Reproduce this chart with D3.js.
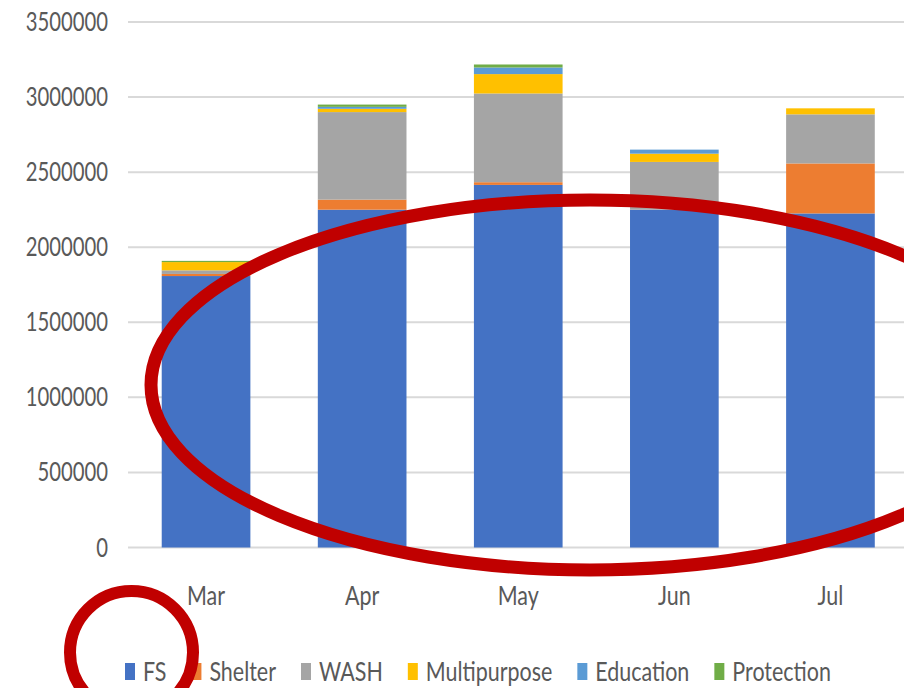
<!DOCTYPE html>
<html>
<head>
  <meta charset='utf-8'>
  <script src="https://d3js.org/d3.v7.min.js"></script>
  <style>
    body { margin: 0; background: #fff; }
    text { font-family: Lato, 'Open Sans', sans-serif; fill: #595959; }
  </style>
</head>
<body>
  <script type='text/javascript'>
    // Chart data
    var months = ['Mar', 'Apr', 'May', 'Jun', 'Jul'];
    var sectors = ['FS', 'Shelter', 'WASH', 'Multipurpose', 'Education', 'Protection'];
    var colors = ['#4472c4', '#ed7d31', '#a5a5a5', '#ffc000', '#5b9bd5', '#70ad47'];
    var fs           = [1808000, 2250000, 2415000, 2250000, 2225000];
    var shelter      = [14000, 67000, 18000, 0, 333000];
    var wash         = [24000, 583000, 591000, 318000, 327000];
    var multipurpose = [55000, 22000, 129000, 55000, 40000];
    var education    = [0, 13000, 44000, 27000, 0];
    var protection   = [8000, 15000, 20000, 0, 0];
    var yTicks = [0, 500000, 1000000, 1500000, 2000000, 2500000, 3000000, 3500000];

    var series = [fs, shelter, wash, multipurpose, education, protection];
    var rows = months.map(function(m, i) {
      var r = { month: m };
      sectors.forEach(function(s, j) { r[s] = series[j][i]; });
      return r;
    });

    var width = 904, height = 688;
    var sx = 0.78; // condensed look of the text

    var svg = d3.select('body')
      .append('svg')
      .attr('width', width)
      .attr('height', height);

    var x = d3.scaleBand()
      .domain(months)
      .range([128, 908.5])
      .paddingInner(0.432)
      .paddingOuter(0.216);

    var y = d3.scaleLinear()
      .domain([0, 3500000])
      .range([547.5, 22]);

    // gridlines
    svg.append('g')
      .selectAll('line')
      .data(yTicks)
      .enter().append('line')
      .attr('x1', 128)
      .attr('x2', width)
      .attr('y1', function(d) { return y(d); })
      .attr('y2', function(d) { return y(d); })
      .attr('stroke', '#d9d9d9')
      .attr('stroke-width', 2);

    // put condensed text at a point
    function label(g, tx, ty, str, anchor, size) {
      return g.append('g')
        .attr('transform', 'translate(' + tx + ',' + ty + ') scale(' + sx + ',1)')
        .append('text')
        .attr('text-anchor', anchor)
        .style('font-size', size + 'px')
        .text(str);
    }

    // y tick labels
    var yAxis = svg.append('g');
    yTicks.forEach(function(t) {
      label(yAxis, 108, y(t) + 9, String(t), 'end', 26);
    });

    // stacked bars
    var stack = d3.stack().keys(sectors);
    var layers = stack(rows);

    svg.append('g')
      .selectAll('g')
      .data(layers)
      .enter().append('g')
      .attr('fill', function(d, i) { return colors[i]; })
      .selectAll('rect')
      .data(function(d) { return d; })
      .enter().append('rect')
      .attr('x', function(d) { return x(d.data.month); })
      .attr('width', x.bandwidth())
      .attr('y', function(d) { return y(d[1]); })
      .attr('height', function(d) { return y(d[0]) - y(d[1]); });

    // month labels
    var xAxis = svg.append('g');
    months.forEach(function(m) {
      label(xAxis, x(m) + x.bandwidth() / 2, 605, m, 'middle', 27.5);
    });

    // legend
    var legend = svg.append('g');
    var lx = 125;
    sectors.forEach(function(s, i) {
      legend.append('rect')
        .attr('x', lx)
        .attr('y', 663)
        .attr('width', 10)
        .attr('height', 17)
        .attr('fill', colors[i]);
      var t = label(legend, lx + 18, 681, s, 'start', 27.5);
      var w = t.node().getComputedTextLength() * sx;
      lx += 18 + w + 25;
    });

    // red annotation marks
    svg.append('ellipse')
      .attr('cx', 590)
      .attr('cy', 385)
      .attr('rx', 439)
      .attr('ry', 185)
      .attr('fill', 'none')
      .attr('stroke', '#c00000')
      .attr('stroke-width', 13);

    svg.append('circle')
      .attr('cx', 131.5)
      .attr('cy', 652.5)
      .attr('r', 61.5)
      .attr('fill', 'none')
      .attr('stroke', '#c00000')
      .attr('stroke-width', 12);
  </script>
</body>
</html>
